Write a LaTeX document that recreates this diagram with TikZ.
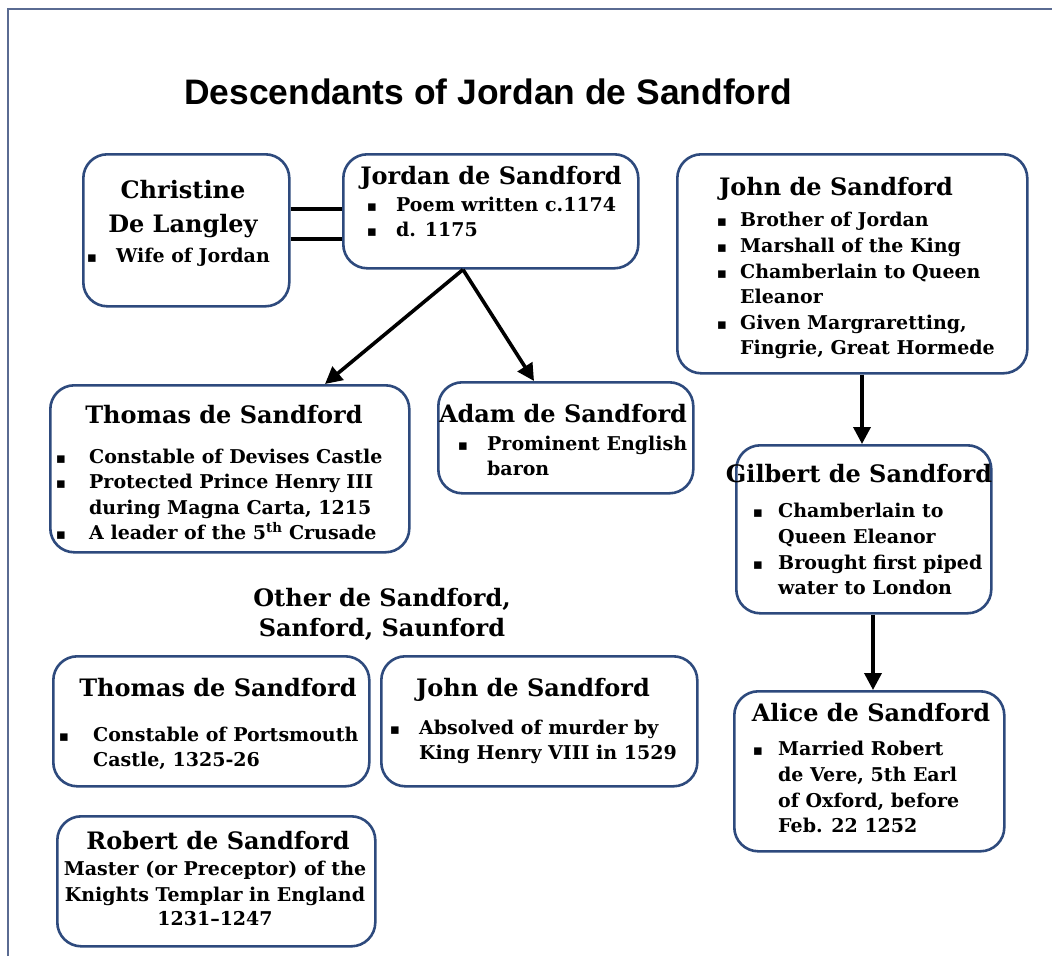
\documentclass[tikz,border=0pt]{standalone}
\usepackage{fontspec}
\setmainfont{DejaVu Serif}
\newfontfamily\titlefont{Liberation Sans}
\newfontfamily\symfont{DejaVu Sans}
\usetikzlibrary{arrows.meta,calc}
\definecolor{boxblue}{HTML}{2E4A7D}
\definecolor{framec}{HTML}{5A6B92}
\tikzset{
  box/.style={draw=boxblue, line width=2.6pt, rounded corners=24pt, fill=white, anchor=north west, inner sep=0pt},
  nmtxt/.style={font=\bfseries\fontsize{24}{28}\selectfont, inner sep=0pt, anchor=base},
  btxt/.style={font=\bfseries\fontsize{19}{24}\selectfont, inner sep=0pt, anchor=base west},
  ctxt/.style={font=\bfseries\fontsize{19}{24}\selectfont, inner sep=0pt, anchor=base},
  bult/.style={font=\symfont\fontsize{15}{16}\selectfont, inner sep=0pt, anchor=base},
  arr/.style={line width=3.6pt, -{Triangle[length=17pt,width=17pt]}},
  dbl/.style={line width=4pt},
}
\newcommand\nm[4]{\node[nmtxt] (#1) at (#2,#3) {#4};}
\newcommand\bt[5]{\node[bult] (#1b) at (#2,#4) {▪}; \node[btxt] (#1) at (#3,#4) {#5};}
\newcommand\ct[4]{\node[btxt] (#1) at (#2,#3) {#4};}
\newcommand\cc[4]{\node[ctxt] (#1) at (#2,#3) {#4};}
\begin{document}
\begin{tikzpicture}[x=1pt,y=-1pt]
\useasboundingbox (0,0) rectangle (1052,956);
\fill[white] (0,0) rectangle (1052,956);
\draw[framec, line width=2pt] (8,956) -- (8,9) -- (1052,9);

\node[font=\titlefont\bfseries\fontsize{35.4}{40}\selectfont, anchor=base, inner sep=0pt] (title) at (488,104) {Descendants of Jordan de Sandford};

% boxes
\node[box, minimum width=206pt, minimum height=152pt] (chris) at (82,153) {};
\node[box, minimum width=295pt, minimum height=114pt] (jordan) at (342,153) {};
\node[box, minimum width=350pt, minimum height=219pt] (johnA) at (676,153) {};
\node[box, minimum width=359pt, minimum height=167pt] (thomA) at (49,384) {};
\node[box, minimum width=255pt, minimum height=111pt] (adam) at (437,381) {};
\node[box, minimum width=255pt, minimum height=168pt] (gilb) at (735,444) {};
\node[box, minimum width=270pt, minimum height=160pt] (alice) at (733,690) {};
\node[box, minimum width=316pt, minimum height=130pt] (thomB) at (52,655) {};
\node[box, minimum width=316pt, minimum height=130pt] (johnB) at (380,655) {};
\node[box, minimum width=318pt, minimum height=130pt] (robert) at (56,815) {};

% Christine
\nm{chrisn1}{183}{198}{Christine}
\nm{chrisn2}{183}{232}{De Langley}
\bt{chrisb1}{92}{116}{262}{Wife of Jordan}

% Jordan
\nm{jordann}{491}{184}{Jordan de Sandford}
\bt{jordanb1}{372}{396}{211}{Poem written c.1174}
\bt{jordanb2}{372}{396}{236}{d. 1175}

% John A
\nm{johnAn}{836}{195}{John de Sandford}
\bt{johnAb1}{722}{740}{226}{Brother of Jordan}
\bt{johnAb2}{722}{740}{252}{Marshall of the King}
\bt{johnAb3}{722}{740}{278}{Chamberlain to Queen}
\ct{johnAc3}{740}{303}{Eleanor}
\bt{johnAb4}{722}{740}{329}{Given Margraretting,}
\ct{johnAc4}{740}{354}{Fingrie, Great Hormede}

% Thomas A
\nm{thomAn}{224}{423}{Thomas de Sandford}
\bt{thomAb1}{61}{89}{463}{Constable of Devises Castle}
\bt{thomAb2}{61}{89}{488}{Protected Prince Henry III}
\ct{thomAc2}{89}{514}{during Magna Carta, 1215}
\bt{thomAb3}{61}{89}{539}{A leader of the 5\textsuperscript{th} Crusade}

% Adam
\nm{adamn}{563}{422}{Adam de Sandford}
\bt{adamb1}{463}{487}{450}{Prominent English}
\ct{adamc1}{487}{475}{baron}

% Gilbert
\nm{gilbn}{859}{482}{Gilbert de Sandford}
\bt{gilbb1}{758}{778}{517}{Chamberlain to}
\ct{gilbc1}{778}{543}{Queen Eleanor}
\bt{gilbb2}{758}{778}{569}{Brought first piped}
\ct{gilbc2}{778}{594}{water to London}

% Alice
\nm{alicen}{871}{721}{Alice de Sandford}
\bt{aliceb1}{758}{778}{755}{Married Robert}
\ct{alicec1}{778}{781}{de Vere, 5th Earl}
\ct{alicec2}{778}{807}{of Oxford, before}
\ct{alicec3}{778}{832}{Feb. 22 1252}

% Other heading
\nm{other1}{382}{606}{Other de Sandford,}
\nm{other2}{382}{636}{Sanford, Saunford}

% Thomas B
\nm{thomBn}{218}{696}{Thomas de Sandford}
\bt{thomBb1}{64}{93}{741}{Constable of Portsmouth}
\ct{thomBc1}{93}{766}{Castle, 1325-26}

% John B
\nm{johnBn}{533}{696}{John de Sandford}
\bt{johnBb1}{395}{419}{734}{Absolved of murder by}
\ct{johnBc1}{419}{759}{King Henry VIII in 1529}

% Robert
\nm{robertn}{218}{849}{Robert de Sandford}
\cc{robertc1}{215}{875}{Master (or Preceptor) of the}
\cc{robertc2}{215}{901}{Knights Templar in England}
\cc{robertc3}{215}{925}{1231–1247}

% connectors
\draw[dbl] (chris.east |- 0,209) -- (jordan.west |- 0,209);
\draw[dbl] (chris.east |- 0,239) -- (jordan.west |- 0,239);
\coordinate (jfork) at (463,0 |- jordan.south);
\draw[arr] (jfork) -- (325,0 |- thomA.north);
\draw[arr] (jfork) -- (534,0 |- adam.north);
\draw[arr] (862,0 |- johnA.south) -- (862,0 |- gilb.north);
\draw[arr] (873,0 |- gilb.south) -- (873,0 |- alice.north);
\end{tikzpicture}
\end{document}
